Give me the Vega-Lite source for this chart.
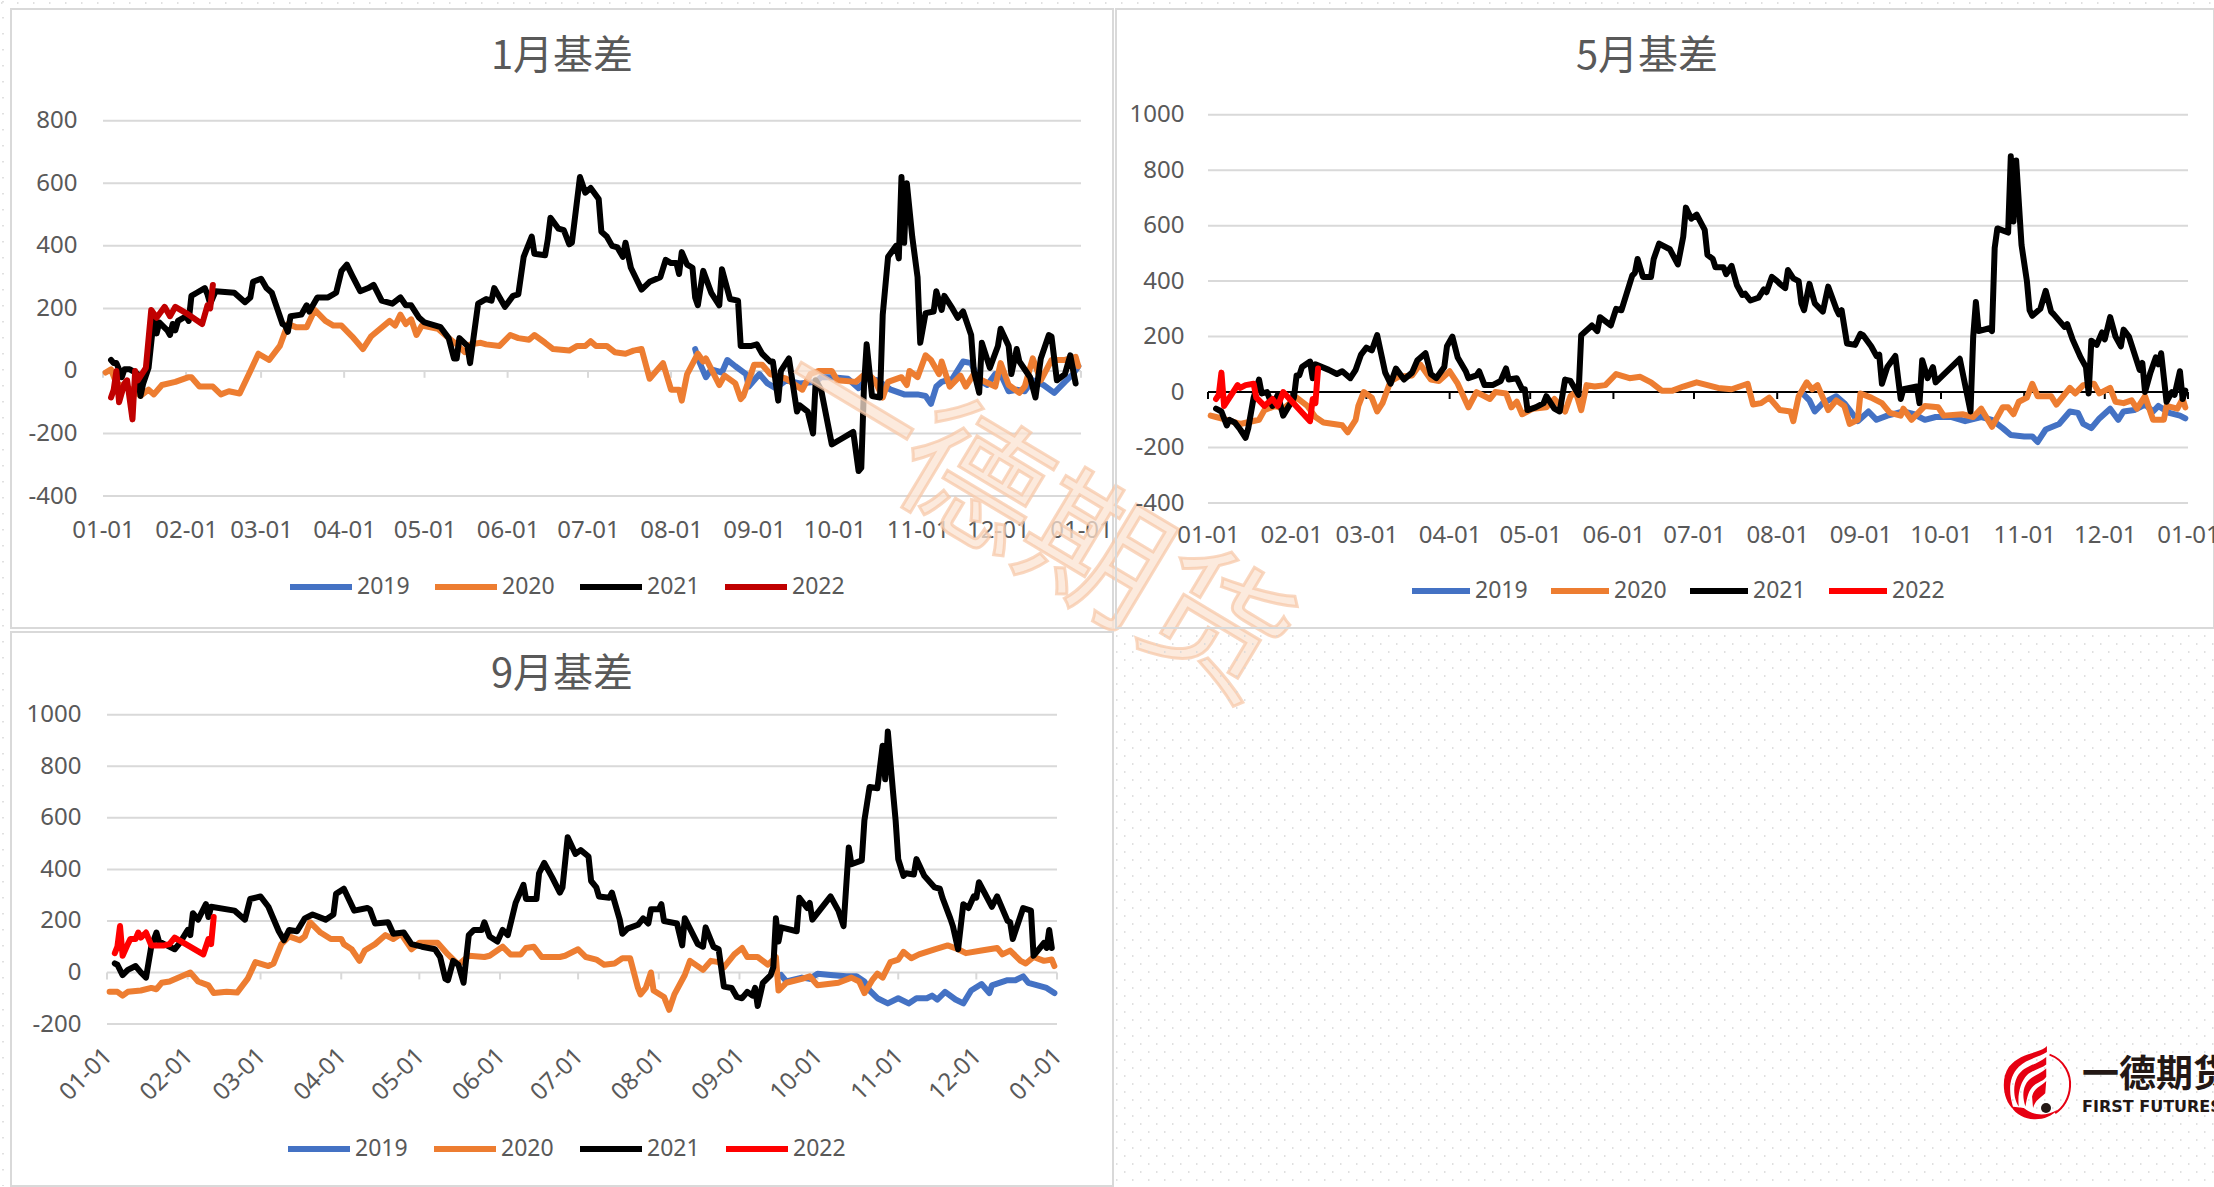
{"$schema":"https://vega.github.io/schema/vega-lite/v6.json","background":"#ffffff","padding":0,"bounds":"flush","columns":2,"spacing":{"column":3,"row":4},"resolve":{"scale":{"color":"independent"},"legend":{"color":"independent"}},
"config":{"font":"Noto Sans","axis":{"labelFont":"Noto Sans","labelFontSize":24,"labelColor":"#595959","domain":false,"ticks":false,"grid":false,"labelPadding":0,"labelOverlap":false,"labelFlush":false,"labelBound":false},"title":{"font":"Noto Sans CJK SC","fontSize":40,"fontWeight":"normal","color":"#595959","anchor":"middle","baseline":"middle"},"legend":{"orient":"none","direction":"horizontal","columns":4,"title":null,"symbolType":"stroke","symbolStrokeWidth":6,"labelFont":"Noto Sans","labelFontSize":23,"labelColor":"#595959","labelOffset":2,"padding":0}},
"datasets":{"ticks":[{"d":"1900-01-01","v":0},{"d":"1900-02-01","v":0},{"d":"1900-03-01","v":0},{"d":"1900-04-01","v":0},{"d":"1900-05-01","v":0},{"d":"1900-06-01","v":0},{"d":"1900-07-01","v":0},{"d":"1900-08-01","v":0},{"d":"1900-09-01","v":0},{"d":"1900-10-01","v":0},{"d":"1900-11-01","v":0},{"d":"1900-12-01","v":0},{"d":"1901-01-01","v":0}],
"p1":[
{"d":"08-10","s":2019,"v":70},{"d":"08-11","s":2019,"v":40},{"d":"08-14","s":2019,"v":-20},{"d":"08-16","s":2019,"v":5},{"d":"08-20","s":2019,"v":-5},{"d":"08-22","s":2019,"v":35},{"d":"08-25","s":2019,"v":15},{"d":"08-29","s":2019,"v":-10},{"d":"08-30","s":2019,"v":-50},{"d":"09-03","s":2019,"v":-10},{"d":"09-06","s":2019,"v":-40},{"d":"09-09","s":2019,"v":-55},{"d":"09-13","s":2019,"v":-30},{"d":"09-18","s":2019,"v":-40},{"d":"09-24","s":2019,"v":-35},{"d":"09-26","s":2019,"v":-20},{"d":"09-30","s":2019,"v":-20},{"d":"10-06","s":2019,"v":-25},{"d":"10-10","s":2019,"v":-55},{"d":"10-13","s":2019,"v":-25},{"d":"10-17","s":2019,"v":-30},{"d":"10-22","s":2019,"v":-60},{"d":"10-27","s":2019,"v":-75},{"d":"11-01","s":2019,"v":-75},{"d":"11-04","s":2019,"v":-80},{"d":"11-06","s":2019,"v":-105},{"d":"11-08","s":2019,"v":-50},{"d":"11-10","s":2019,"v":-35},{"d":"11-14","s":2019,"v":-25},{"d":"11-18","s":2019,"v":30},{"d":"11-21","s":2019,"v":25},{"d":"11-24","s":2019,"v":-30},{"d":"11-27","s":2019,"v":-45},{"d":"11-30","s":2019,"v":-10},{"d":"12-02","s":2019,"v":-10},{"d":"12-05","s":2019,"v":-65},{"d":"12-08","s":2019,"v":-60},{"d":"12-11","s":2019,"v":-65},{"d":"12-14","s":2019,"v":-30},{"d":"12-18","s":2019,"v":-45},{"d":"12-22","s":2019,"v":-70},{"d":"12-26","s":2019,"v":-35},{"d":"12-29","s":2019,"v":-10},{"d":"12-31","s":2019,"v":15},
{"d":"01-02","s":2020,"v":-5},{"d":"01-04","s":2020,"v":5},{"d":"01-06","s":2020,"v":-40},{"d":"01-12","s":2020,"v":-60},{"d":"01-15","s":2020,"v":-80},{"d":"01-18","s":2020,"v":-60},{"d":"01-20","s":2020,"v":-75},{"d":"01-23","s":2020,"v":-45},{"d":"01-28","s":2020,"v":-35},{"d":"02-02","s":2020,"v":-20},{"d":"02-03","s":2020,"v":-20},{"d":"02-06","s":2020,"v":-50},{"d":"02-11","s":2020,"v":-50},{"d":"02-14","s":2020,"v":-75},{"d":"02-17","s":2020,"v":-65},{"d":"02-21","s":2020,"v":-72},{"d":"02-25","s":2020,"v":0},{"d":"02-28","s":2020,"v":55},{"d":"03-04","s":2020,"v":35},{"d":"03-08","s":2020,"v":80},{"d":"03-11","s":2020,"v":150},{"d":"03-14","s":2020,"v":140},{"d":"03-18","s":2020,"v":140},{"d":"03-21","s":2020,"v":195},{"d":"03-25","s":2020,"v":160},{"d":"03-28","s":2020,"v":145},{"d":"03-31","s":2020,"v":145},{"d":"04-04","s":2020,"v":110},{"d":"04-08","s":2020,"v":70},{"d":"04-11","s":2020,"v":110},{"d":"04-18","s":2020,"v":160},{"d":"04-20","s":2020,"v":145},{"d":"04-22","s":2020,"v":180},{"d":"04-24","s":2020,"v":150},{"d":"04-26","s":2020,"v":165},{"d":"04-28","s":2020,"v":115},{"d":"04-30","s":2020,"v":145},{"d":"05-06","s":2020,"v":135},{"d":"05-10","s":2020,"v":105},{"d":"05-13","s":2020,"v":85},{"d":"05-16","s":2020,"v":60},{"d":"05-18","s":2020,"v":85},{"d":"05-22","s":2020,"v":90},{"d":"05-24","s":2020,"v":85},{"d":"05-29","s":2020,"v":80},{"d":"06-02","s":2020,"v":115},{"d":"06-05","s":2020,"v":105},{"d":"06-09","s":2020,"v":100},{"d":"06-11","s":2020,"v":115},{"d":"06-15","s":2020,"v":90},{"d":"06-18","s":2020,"v":70},{"d":"06-24","s":2020,"v":65},{"d":"06-27","s":2020,"v":80},{"d":"06-30","s":2020,"v":80},{"d":"07-02","s":2020,"v":95},{"d":"07-04","s":2020,"v":80},{"d":"07-08","s":2020,"v":80},{"d":"07-11","s":2020,"v":60},{"d":"07-15","s":2020,"v":55},{"d":"07-18","s":2020,"v":65},{"d":"07-21","s":2020,"v":70},{"d":"07-24","s":2020,"v":-25},{"d":"07-29","s":2020,"v":25},{"d":"08-01","s":2020,"v":-60},{"d":"08-04","s":2020,"v":-60},{"d":"08-05","s":2020,"v":-95},{"d":"08-07","s":2020,"v":-10},{"d":"08-11","s":2020,"v":55},{"d":"08-13","s":2020,"v":30},{"d":"08-14","s":2020,"v":40},{"d":"08-19","s":2020,"v":-45},{"d":"08-21","s":2020,"v":-15},{"d":"08-25","s":2020,"v":-40},{"d":"08-27","s":2020,"v":-90},{"d":"08-28","s":2020,"v":-80},{"d":"09-01","s":2020,"v":20},{"d":"09-04","s":2020,"v":20},{"d":"09-07","s":2020,"v":-10},{"d":"09-13","s":2020,"v":-25},{"d":"09-19","s":2020,"v":-60},{"d":"09-22","s":2020,"v":-10},{"d":"09-25","s":2020,"v":0},{"d":"09-30","s":2020,"v":0},{"d":"10-02","s":2020,"v":-30},{"d":"10-09","s":2020,"v":-35},{"d":"10-13","s":2020,"v":-5},{"d":"10-16","s":2020,"v":-30},{"d":"10-19","s":2020,"v":-85},{"d":"10-21","s":2020,"v":-35},{"d":"10-26","s":2020,"v":-20},{"d":"10-28","s":2020,"v":-45},{"d":"10-29","s":2020,"v":0},{"d":"11-01","s":2020,"v":-20},{"d":"11-04","s":2020,"v":50},{"d":"11-06","s":2020,"v":35},{"d":"11-09","s":2020,"v":-10},{"d":"11-10","s":2020,"v":30},{"d":"11-13","s":2020,"v":-50},{"d":"11-17","s":2020,"v":-15},{"d":"11-19","s":2020,"v":-50},{"d":"11-22","s":2020,"v":-10},{"d":"11-25","s":2020,"v":-30},{"d":"11-30","s":2020,"v":-50},{"d":"12-02","s":2020,"v":25},{"d":"12-05","s":2020,"v":-45},{"d":"12-09","s":2020,"v":-70},{"d":"12-11","s":2020,"v":-50},{"d":"12-14","s":2020,"v":40},{"d":"12-17","s":2020,"v":-30},{"d":"12-21","s":2020,"v":35},{"d":"12-26","s":2020,"v":35},{"d":"12-30","s":2020,"v":45},{"d":"12-31","s":2020,"v":15},
{"d":"01-04","s":2021,"v":35},{"d":"01-05","s":2021,"v":25},{"d":"01-06","s":2021,"v":25},{"d":"01-07","s":2021,"v":5},{"d":"01-08","s":2021,"v":-20},{"d":"01-09","s":2021,"v":5},{"d":"01-11","s":2021,"v":5},{"d":"01-12","s":2021,"v":0},{"d":"01-14","s":2021,"v":-10},{"d":"01-15","s":2021,"v":-80},{"d":"01-16","s":2021,"v":-40},{"d":"01-18","s":2021,"v":10},{"d":"01-19","s":2021,"v":90},{"d":"01-20","s":2021,"v":170},{"d":"01-21","s":2021,"v":120},{"d":"01-22","s":2021,"v":155},{"d":"01-25","s":2021,"v":130},{"d":"01-26","s":2021,"v":115},{"d":"01-27","s":2021,"v":150},{"d":"01-28","s":2021,"v":130},{"d":"01-29","s":2021,"v":160},{"d":"02-01","s":2021,"v":175},{"d":"02-02","s":2021,"v":160},{"d":"02-03","s":2021,"v":240},{"d":"02-05","s":2021,"v":250},{"d":"02-08","s":2021,"v":265},{"d":"02-09","s":2021,"v":245},{"d":"02-10","s":2021,"v":215},{"d":"02-12","s":2021,"v":255},{"d":"02-19","s":2021,"v":250},{"d":"02-23","s":2021,"v":220},{"d":"02-25","s":2021,"v":235},{"d":"02-26","s":2021,"v":285},{"d":"03-01","s":2021,"v":295},{"d":"03-03","s":2021,"v":265},{"d":"03-05","s":2021,"v":250},{"d":"03-09","s":2021,"v":150},{"d":"03-10","s":2021,"v":145},{"d":"03-11","s":2021,"v":125},{"d":"03-12","s":2021,"v":175},{"d":"03-16","s":2021,"v":180},{"d":"03-18","s":2021,"v":210},{"d":"03-19","s":2021,"v":190},{"d":"03-22","s":2021,"v":235},{"d":"03-26","s":2021,"v":235},{"d":"03-29","s":2021,"v":250},{"d":"03-31","s":2021,"v":320},{"d":"04-02","s":2021,"v":340},{"d":"04-04","s":2021,"v":305},{"d":"04-07","s":2021,"v":255},{"d":"04-10","s":2021,"v":265},{"d":"04-12","s":2021,"v":275},{"d":"04-15","s":2021,"v":225},{"d":"04-19","s":2021,"v":215},{"d":"04-22","s":2021,"v":235},{"d":"04-24","s":2021,"v":210},{"d":"04-26","s":2021,"v":210},{"d":"04-29","s":2021,"v":170},{"d":"05-01","s":2021,"v":155},{"d":"05-07","s":2021,"v":140},{"d":"05-10","s":2021,"v":105},{"d":"05-12","s":2021,"v":40},{"d":"05-13","s":2021,"v":40},{"d":"05-14","s":2021,"v":105},{"d":"05-17","s":2021,"v":80},{"d":"05-18","s":2021,"v":25},{"d":"05-21","s":2021,"v":215},{"d":"05-24","s":2021,"v":230},{"d":"05-26","s":2021,"v":225},{"d":"05-27","s":2021,"v":265},{"d":"05-31","s":2021,"v":205},{"d":"06-03","s":2021,"v":240},{"d":"06-05","s":2021,"v":245},{"d":"06-07","s":2021,"v":365},{"d":"06-10","s":2021,"v":430},{"d":"06-11","s":2021,"v":375},{"d":"06-15","s":2021,"v":370},{"d":"06-16","s":2021,"v":420},{"d":"06-17","s":2021,"v":490},{"d":"06-20","s":2021,"v":455},{"d":"06-22","s":2021,"v":450},{"d":"06-24","s":2021,"v":405},{"d":"06-25","s":2021,"v":410},{"d":"06-28","s":2021,"v":620},{"d":"06-30","s":2021,"v":570},{"d":"07-02","s":2021,"v":585},{"d":"07-05","s":2021,"v":550},{"d":"07-06","s":2021,"v":445},{"d":"07-08","s":2021,"v":430},{"d":"07-10","s":2021,"v":400},{"d":"07-12","s":2021,"v":395},{"d":"07-14","s":2021,"v":365},{"d":"07-15","s":2021,"v":410},{"d":"07-17","s":2021,"v":330},{"d":"07-19","s":2021,"v":295},{"d":"07-21","s":2021,"v":260},{"d":"07-24","s":2021,"v":285},{"d":"07-28","s":2021,"v":300},{"d":"07-30","s":2021,"v":355},{"d":"08-01","s":2021,"v":345},{"d":"08-03","s":2021,"v":345},{"d":"08-04","s":2021,"v":310},{"d":"08-05","s":2021,"v":380},{"d":"08-07","s":2021,"v":340},{"d":"08-09","s":2021,"v":330},{"d":"08-10","s":2021,"v":235},{"d":"08-11","s":2021,"v":210},{"d":"08-13","s":2021,"v":320},{"d":"08-16","s":2021,"v":250},{"d":"08-19","s":2021,"v":210},{"d":"08-20","s":2021,"v":325},{"d":"08-23","s":2021,"v":230},{"d":"08-26","s":2021,"v":225},{"d":"08-27","s":2021,"v":80},{"d":"08-31","s":2021,"v":80},{"d":"09-02","s":2021,"v":85},{"d":"09-04","s":2021,"v":55},{"d":"09-07","s":2021,"v":30},{"d":"09-08","s":2021,"v":30},{"d":"09-10","s":2021,"v":-95},{"d":"09-11","s":2021,"v":0},{"d":"09-14","s":2021,"v":40},{"d":"09-17","s":2021,"v":-130},{"d":"09-18","s":2021,"v":-110},{"d":"09-21","s":2021,"v":-130},{"d":"09-23","s":2021,"v":-200},{"d":"09-24","s":2021,"v":-30},{"d":"09-26","s":2021,"v":-60},{"d":"09-30","s":2021,"v":-235},{"d":"10-03","s":2021,"v":-220},{"d":"10-08","s":2021,"v":-195},{"d":"10-10","s":2021,"v":-320},{"d":"10-11","s":2021,"v":-310},{"d":"10-12","s":2021,"v":-50},{"d":"10-13","s":2021,"v":85},{"d":"10-15","s":2021,"v":-80},{"d":"10-18","s":2021,"v":-85},{"d":"10-19","s":2021,"v":180},{"d":"10-21","s":2021,"v":365},{"d":"10-24","s":2021,"v":400},{"d":"10-25","s":2021,"v":360},{"d":"10-26","s":2021,"v":620},{"d":"10-27","s":2021,"v":410},{"d":"10-28","s":2021,"v":600},{"d":"10-30","s":2021,"v":430},{"d":"11-01","s":2021,"v":300},{"d":"11-02","s":2021,"v":90},{"d":"11-04","s":2021,"v":185},{"d":"11-07","s":2021,"v":190},{"d":"11-08","s":2021,"v":255},{"d":"11-10","s":2021,"v":195},{"d":"11-11","s":2021,"v":240},{"d":"11-14","s":2021,"v":200},{"d":"11-16","s":2021,"v":170},{"d":"11-18","s":2021,"v":190},{"d":"11-21","s":2021,"v":115},{"d":"11-22","s":2021,"v":0},{"d":"11-24","s":2021,"v":-70},{"d":"11-25","s":2021,"v":90},{"d":"11-28","s":2021,"v":10},{"d":"12-01","s":2021,"v":80},{"d":"12-02","s":2021,"v":135},{"d":"12-05","s":2021,"v":80},{"d":"12-06","s":2021,"v":-10},{"d":"12-08","s":2021,"v":70},{"d":"12-09","s":2021,"v":30},{"d":"12-13","s":2021,"v":-20},{"d":"12-15","s":2021,"v":-85},{"d":"12-17","s":2021,"v":40},{"d":"12-20","s":2021,"v":115},{"d":"12-21","s":2021,"v":110},{"d":"12-23","s":2021,"v":-30},{"d":"12-26","s":2021,"v":-10},{"d":"12-28","s":2021,"v":50},{"d":"12-30","s":2021,"v":-40},
{"d":"01-04","s":2022,"v":-85},{"d":"01-05","s":2022,"v":-60},{"d":"01-06","s":2022,"v":0},{"d":"01-07","s":2022,"v":-100},{"d":"01-09","s":2022,"v":-40},{"d":"01-10","s":2022,"v":-30},{"d":"01-12","s":2022,"v":-155},{"d":"01-13","s":2022,"v":0},{"d":"01-14","s":2022,"v":-30},{"d":"01-17","s":2022,"v":10},{"d":"01-19","s":2022,"v":195},{"d":"01-21","s":2022,"v":170},{"d":"01-24","s":2022,"v":205},{"d":"01-26","s":2022,"v":175},{"d":"01-28","s":2022,"v":205},{"d":"02-01","s":2022,"v":185},{"d":"02-07","s":2022,"v":150},{"d":"02-09","s":2022,"v":210},{"d":"02-10","s":2022,"v":200},{"d":"02-11","s":2022,"v":275}],
"p2":[
{"d":"08-10","s":2019,"v":0},{"d":"08-13","s":2019,"v":-30},{"d":"08-15","s":2019,"v":-70},{"d":"08-18","s":2019,"v":-40},{"d":"08-23","s":2019,"v":-15},{"d":"08-26","s":2019,"v":-40},{"d":"08-28","s":2019,"v":-65},{"d":"08-31","s":2019,"v":-105},{"d":"09-04","s":2019,"v":-70},{"d":"09-07","s":2019,"v":-100},{"d":"09-11","s":2019,"v":-85},{"d":"09-17","s":2019,"v":-70},{"d":"09-21","s":2019,"v":-80},{"d":"09-25","s":2019,"v":-100},{"d":"09-29","s":2019,"v":-90},{"d":"10-05","s":2019,"v":-90},{"d":"10-10","s":2019,"v":-105},{"d":"10-16","s":2019,"v":-90},{"d":"10-20","s":2019,"v":-100},{"d":"10-24","s":2019,"v":-130},{"d":"10-27","s":2019,"v":-155},{"d":"11-01","s":2019,"v":-160},{"d":"11-04","s":2019,"v":-160},{"d":"11-06","s":2019,"v":-180},{"d":"11-09","s":2019,"v":-135},{"d":"11-14","s":2019,"v":-115},{"d":"11-18","s":2019,"v":-70},{"d":"11-21","s":2019,"v":-75},{"d":"11-23","s":2019,"v":-115},{"d":"11-26","s":2019,"v":-130},{"d":"11-29","s":2019,"v":-95},{"d":"12-03","s":2019,"v":-60},{"d":"12-06","s":2019,"v":-100},{"d":"12-08","s":2019,"v":-70},{"d":"12-12","s":2019,"v":-65},{"d":"12-16","s":2019,"v":-45},{"d":"12-19","s":2019,"v":-70},{"d":"12-21","s":2019,"v":-50},{"d":"12-25","s":2019,"v":-75},{"d":"12-29","s":2019,"v":-85},{"d":"12-31","s":2019,"v":-95},
{"d":"01-02","s":2020,"v":-85},{"d":"01-04","s":2020,"v":-90},{"d":"01-08","s":2020,"v":-100},{"d":"01-13","s":2020,"v":-115},{"d":"01-20","s":2020,"v":-100},{"d":"01-22","s":2020,"v":-65},{"d":"01-26","s":2020,"v":-50},{"d":"01-29","s":2020,"v":-60},{"d":"02-03","s":2020,"v":-20},{"d":"02-07","s":2020,"v":-50},{"d":"02-10","s":2020,"v":-90},{"d":"02-13","s":2020,"v":-110},{"d":"02-20","s":2020,"v":-120},{"d":"02-22","s":2020,"v":-145},{"d":"02-25","s":2020,"v":-100},{"d":"02-26","s":2020,"v":-50},{"d":"02-28","s":2020,"v":0},{"d":"03-03","s":2020,"v":-20},{"d":"03-05","s":2020,"v":-70},{"d":"03-07","s":2020,"v":-40},{"d":"03-10","s":2020,"v":40},{"d":"03-13","s":2020,"v":55},{"d":"03-18","s":2020,"v":60},{"d":"03-21","s":2020,"v":100},{"d":"03-25","s":2020,"v":45},{"d":"03-28","s":2020,"v":40},{"d":"04-01","s":2020,"v":75},{"d":"04-04","s":2020,"v":30},{"d":"04-08","s":2020,"v":-55},{"d":"04-11","s":2020,"v":0},{"d":"04-16","s":2020,"v":-25},{"d":"04-18","s":2020,"v":0},{"d":"04-22","s":2020,"v":-5},{"d":"04-24","s":2020,"v":-55},{"d":"04-26","s":2020,"v":-35},{"d":"04-28","s":2020,"v":-80},{"d":"05-02","s":2020,"v":-60},{"d":"05-07","s":2020,"v":-55},{"d":"05-10","s":2020,"v":-25},{"d":"05-14","s":2020,"v":-70},{"d":"05-16","s":2020,"v":-15},{"d":"05-18","s":2020,"v":0},{"d":"05-20","s":2020,"v":-65},{"d":"05-22","s":2020,"v":25},{"d":"05-25","s":2020,"v":20},{"d":"05-29","s":2020,"v":25},{"d":"06-02","s":2020,"v":65},{"d":"06-07","s":2020,"v":50},{"d":"06-11","s":2020,"v":55},{"d":"06-15","s":2020,"v":35},{"d":"06-19","s":2020,"v":5},{"d":"06-23","s":2020,"v":5},{"d":"06-27","s":2020,"v":20},{"d":"07-02","s":2020,"v":35},{"d":"07-06","s":2020,"v":25},{"d":"07-10","s":2020,"v":15},{"d":"07-15","s":2020,"v":10},{"d":"07-21","s":2020,"v":30},{"d":"07-23","s":2020,"v":-45},{"d":"07-26","s":2020,"v":-40},{"d":"07-29","s":2020,"v":-20},{"d":"08-02","s":2020,"v":-65},{"d":"08-06","s":2020,"v":-70},{"d":"08-07","s":2020,"v":-105},{"d":"08-09","s":2020,"v":-15},{"d":"08-12","s":2020,"v":35},{"d":"08-14","s":2020,"v":10},{"d":"08-16","s":2020,"v":25},{"d":"08-20","s":2020,"v":-65},{"d":"08-23","s":2020,"v":-30},{"d":"08-26","s":2020,"v":-50},{"d":"08-28","s":2020,"v":-115},{"d":"08-31","s":2020,"v":-100},{"d":"09-01","s":2020,"v":-5},{"d":"09-05","s":2020,"v":-20},{"d":"09-09","s":2020,"v":-40},{"d":"09-12","s":2020,"v":-75},{"d":"09-16","s":2020,"v":-85},{"d":"09-17","s":2020,"v":-60},{"d":"09-20","s":2020,"v":-100},{"d":"09-25","s":2020,"v":-50},{"d":"09-30","s":2020,"v":-55},{"d":"10-02","s":2020,"v":-85},{"d":"10-09","s":2020,"v":-80},{"d":"10-13","s":2020,"v":-90},{"d":"10-16","s":2020,"v":-60},{"d":"10-20","s":2020,"v":-125},{"d":"10-24","s":2020,"v":-55},{"d":"10-26","s":2020,"v":-55},{"d":"10-28","s":2020,"v":-80},{"d":"10-30","s":2020,"v":-35},{"d":"11-02","s":2020,"v":-20},{"d":"11-04","s":2020,"v":30},{"d":"11-06","s":2020,"v":-15},{"d":"11-11","s":2020,"v":-15},{"d":"11-13","s":2020,"v":-45},{"d":"11-18","s":2020,"v":15},{"d":"11-20","s":2020,"v":-5},{"d":"11-23","s":2020,"v":25},{"d":"11-27","s":2020,"v":30},{"d":"11-29","s":2020,"v":-5},{"d":"12-03","s":2020,"v":15},{"d":"12-05","s":2020,"v":-35},{"d":"12-08","s":2020,"v":-40},{"d":"12-11","s":2020,"v":-30},{"d":"12-13","s":2020,"v":-60},{"d":"12-16","s":2020,"v":-15},{"d":"12-19","s":2020,"v":-100},{"d":"12-23","s":2020,"v":-100},{"d":"12-24","s":2020,"v":-50},{"d":"12-28","s":2020,"v":-60},{"d":"12-30","s":2020,"v":-25},{"d":"12-31","s":2020,"v":-55},
{"d":"01-04","s":2021,"v":-60},{"d":"01-06","s":2021,"v":-70},{"d":"01-08","s":2021,"v":-120},{"d":"01-09","s":2021,"v":-100},{"d":"01-11","s":2021,"v":-110},{"d":"01-13","s":2021,"v":-135},{"d":"01-15","s":2021,"v":-165},{"d":"01-16","s":2021,"v":-130},{"d":"01-18","s":2021,"v":-20},{"d":"01-20","s":2021,"v":45},{"d":"01-21","s":2021,"v":-5},{"d":"01-23","s":2021,"v":0},{"d":"01-25","s":2021,"v":-50},{"d":"01-27","s":2021,"v":-10},{"d":"01-29","s":2021,"v":-85},{"d":"02-02","s":2021,"v":-20},{"d":"02-03","s":2021,"v":60},{"d":"02-04","s":2021,"v":60},{"d":"02-05","s":2021,"v":90},{"d":"02-08","s":2021,"v":110},{"d":"02-09","s":2021,"v":50},{"d":"02-10","s":2021,"v":100},{"d":"02-15","s":2021,"v":80},{"d":"02-18","s":2021,"v":65},{"d":"02-20","s":2021,"v":75},{"d":"02-23","s":2021,"v":50},{"d":"02-25","s":2021,"v":80},{"d":"02-27","s":2021,"v":135},{"d":"03-01","s":2021,"v":160},{"d":"03-03","s":2021,"v":150},{"d":"03-05","s":2021,"v":205},{"d":"03-08","s":2021,"v":70},{"d":"03-10","s":2021,"v":30},{"d":"03-12","s":2021,"v":85},{"d":"03-15","s":2021,"v":45},{"d":"03-18","s":2021,"v":70},{"d":"03-20","s":2021,"v":115},{"d":"03-23","s":2021,"v":140},{"d":"03-25","s":2021,"v":65},{"d":"03-27","s":2021,"v":50},{"d":"03-30","s":2021,"v":90},{"d":"03-31","s":2021,"v":165},{"d":"04-02","s":2021,"v":200},{"d":"04-04","s":2021,"v":125},{"d":"04-07","s":2021,"v":75},{"d":"04-08","s":2021,"v":50},{"d":"04-11","s":2021,"v":60},{"d":"04-12","s":2021,"v":75},{"d":"04-14","s":2021,"v":25},{"d":"04-17","s":2021,"v":25},{"d":"04-20","s":2021,"v":40},{"d":"04-22","s":2021,"v":85},{"d":"04-23","s":2021,"v":45},{"d":"04-26","s":2021,"v":50},{"d":"04-28","s":2021,"v":10},{"d":"04-29","s":2021,"v":10},{"d":"04-30","s":2021,"v":-65},{"d":"05-03","s":2021,"v":-55},{"d":"05-06","s":2021,"v":-40},{"d":"05-07","s":2021,"v":-15},{"d":"05-10","s":2021,"v":-60},{"d":"05-12","s":2021,"v":-70},{"d":"05-14","s":2021,"v":45},{"d":"05-16","s":2021,"v":40},{"d":"05-19","s":2021,"v":-10},{"d":"05-20","s":2021,"v":205},{"d":"05-24","s":2021,"v":240},{"d":"05-26","s":2021,"v":220},{"d":"05-27","s":2021,"v":270},{"d":"05-31","s":2021,"v":240},{"d":"06-02","s":2021,"v":300},{"d":"06-04","s":2021,"v":295},{"d":"06-08","s":2021,"v":420},{"d":"06-09","s":2021,"v":430},{"d":"06-10","s":2021,"v":480},{"d":"06-12","s":2021,"v":415},{"d":"06-15","s":2021,"v":415},{"d":"06-16","s":2021,"v":480},{"d":"06-18","s":2021,"v":535},{"d":"06-22","s":2021,"v":515},{"d":"06-25","s":2021,"v":460},{"d":"06-27","s":2021,"v":560},{"d":"06-28","s":2021,"v":665},{"d":"06-30","s":2021,"v":625},{"d":"07-02","s":2021,"v":640},{"d":"07-05","s":2021,"v":585},{"d":"07-06","s":2021,"v":495},{"d":"07-08","s":2021,"v":480},{"d":"07-09","s":2021,"v":450},{"d":"07-12","s":2021,"v":450},{"d":"07-13","s":2021,"v":425},{"d":"07-15","s":2021,"v":455},{"d":"07-17","s":2021,"v":385},{"d":"07-19","s":2021,"v":350},{"d":"07-20","s":2021,"v":355},{"d":"07-22","s":2021,"v":330},{"d":"07-25","s":2021,"v":340},{"d":"07-27","s":2021,"v":370},{"d":"07-28","s":2021,"v":360},{"d":"07-30","s":2021,"v":415},{"d":"08-01","s":2021,"v":400},{"d":"08-02","s":2021,"v":390},{"d":"08-04","s":2021,"v":375},{"d":"08-05","s":2021,"v":440},{"d":"08-07","s":2021,"v":410},{"d":"08-09","s":2021,"v":400},{"d":"08-10","s":2021,"v":320},{"d":"08-11","s":2021,"v":295},{"d":"08-13","s":2021,"v":390},{"d":"08-15","s":2021,"v":320},{"d":"08-18","s":2021,"v":290},{"d":"08-20","s":2021,"v":380},{"d":"08-23","s":2021,"v":300},{"d":"08-24","s":2021,"v":280},{"d":"08-25","s":2021,"v":295},{"d":"08-27","s":2021,"v":175},{"d":"08-30","s":2021,"v":170},{"d":"09-01","s":2021,"v":210},{"d":"09-02","s":2021,"v":205},{"d":"09-05","s":2021,"v":165},{"d":"09-07","s":2021,"v":130},{"d":"09-08","s":2021,"v":135},{"d":"09-09","s":2021,"v":30},{"d":"09-11","s":2021,"v":90},{"d":"09-14","s":2021,"v":130},{"d":"09-16","s":2021,"v":-25},{"d":"09-17","s":2021,"v":10},{"d":"09-22","s":2021,"v":20},{"d":"09-23","s":2021,"v":-40},{"d":"09-24","s":2021,"v":115},{"d":"09-26","s":2021,"v":50},{"d":"09-28","s":2021,"v":90},{"d":"09-29","s":2021,"v":35},{"d":"10-08","s":2021,"v":120},{"d":"10-12","s":2021,"v":-70},{"d":"10-13","s":2021,"v":200},{"d":"10-14","s":2021,"v":325},{"d":"10-15","s":2021,"v":220},{"d":"10-19","s":2021,"v":230},{"d":"10-20","s":2021,"v":220},{"d":"10-21","s":2021,"v":520},{"d":"10-22","s":2021,"v":590},{"d":"10-26","s":2021,"v":575},{"d":"10-27","s":2021,"v":850},{"d":"10-28","s":2021,"v":615},{"d":"10-29","s":2021,"v":835},{"d":"10-31","s":2021,"v":530},{"d":"11-02","s":2021,"v":400},{"d":"11-03","s":2021,"v":295},{"d":"11-04","s":2021,"v":275},{"d":"11-07","s":2021,"v":300},{"d":"11-09","s":2021,"v":365},{"d":"11-11","s":2021,"v":290},{"d":"11-12","s":2021,"v":280},{"d":"11-16","s":2021,"v":235},{"d":"11-17","s":2021,"v":245},{"d":"11-19","s":2021,"v":190},{"d":"11-22","s":2021,"v":125},{"d":"11-24","s":2021,"v":90},{"d":"11-25","s":2021,"v":-5},{"d":"11-26","s":2021,"v":185},{"d":"11-28","s":2021,"v":170},{"d":"11-30","s":2021,"v":215},{"d":"12-01","s":2021,"v":190},{"d":"12-03","s":2021,"v":270},{"d":"12-05","s":2021,"v":200},{"d":"12-07","s":2021,"v":165},{"d":"12-08","s":2021,"v":225},{"d":"12-10","s":2021,"v":200},{"d":"12-14","s":2021,"v":80},{"d":"12-15","s":2021,"v":105},{"d":"12-16","s":2021,"v":0},{"d":"12-18","s":2021,"v":70},{"d":"12-20","s":2021,"v":125},{"d":"12-21","s":2021,"v":100},{"d":"12-22","s":2021,"v":140},{"d":"12-24","s":2021,"v":-35},{"d":"12-26","s":2021,"v":0},{"d":"12-27","s":2021,"v":-10},{"d":"12-29","s":2021,"v":75},{"d":"12-30","s":2021,"v":-25},{"d":"12-31","s":2021,"v":5},
{"d":"01-04","s":2022,"v":-25},{"d":"01-05","s":2022,"v":-10},{"d":"01-06","s":2022,"v":70},{"d":"01-07","s":2022,"v":-50},{"d":"01-11","s":2022,"v":10},{"d":"01-12","s":2022,"v":25},{"d":"01-13","s":2022,"v":15},{"d":"01-15","s":2022,"v":25},{"d":"01-18","s":2022,"v":30},{"d":"01-19","s":2022,"v":-20},{"d":"01-22","s":2022,"v":-50},{"d":"01-25","s":2022,"v":-25},{"d":"01-27","s":2022,"v":-50},{"d":"01-29","s":2022,"v":0},{"d":"02-08","s":2022,"v":-105},{"d":"02-09","s":2022,"v":-25},{"d":"02-10","s":2022,"v":-40},{"d":"02-11","s":2022,"v":85}],
"p3":[
{"d":"09-17","s":2019,"v":-10},{"d":"09-19","s":2019,"v":-35},{"d":"09-25","s":2019,"v":-20},{"d":"09-28","s":2019,"v":-25},{"d":"10-01","s":2019,"v":-5},{"d":"10-06","s":2019,"v":-10},{"d":"10-12","s":2019,"v":-15},{"d":"10-16","s":2019,"v":-15},{"d":"10-19","s":2019,"v":-35},{"d":"10-21","s":2019,"v":-70},{"d":"10-24","s":2019,"v":-100},{"d":"10-28","s":2019,"v":-120},{"d":"11-01","s":2019,"v":-100},{"d":"11-05","s":2019,"v":-120},{"d":"11-08","s":2019,"v":-100},{"d":"11-12","s":2019,"v":-100},{"d":"11-14","s":2019,"v":-90},{"d":"11-16","s":2019,"v":-105},{"d":"11-19","s":2019,"v":-75},{"d":"11-23","s":2019,"v":-105},{"d":"11-26","s":2019,"v":-120},{"d":"11-29","s":2019,"v":-70},{"d":"12-03","s":2019,"v":-45},{"d":"12-06","s":2019,"v":-80},{"d":"12-07","s":2019,"v":-50},{"d":"12-13","s":2019,"v":-30},{"d":"12-16","s":2019,"v":-30},{"d":"12-19","s":2019,"v":-15},{"d":"12-21","s":2019,"v":-40},{"d":"12-28","s":2019,"v":-60},{"d":"12-31","s":2019,"v":-80},
{"d":"01-02","s":2020,"v":-75},{"d":"01-05","s":2020,"v":-75},{"d":"01-07","s":2020,"v":-90},{"d":"01-09","s":2020,"v":-75},{"d":"01-14","s":2020,"v":-70},{"d":"01-18","s":2020,"v":-60},{"d":"01-20","s":2020,"v":-65},{"d":"01-22","s":2020,"v":-40},{"d":"01-25","s":2020,"v":-35},{"d":"02-02","s":2020,"v":0},{"d":"02-05","s":2020,"v":-35},{"d":"02-09","s":2020,"v":-50},{"d":"02-11","s":2020,"v":-80},{"d":"02-16","s":2020,"v":-75},{"d":"02-20","s":2020,"v":-78},{"d":"02-24","s":2020,"v":-25},{"d":"02-27","s":2020,"v":40},{"d":"03-04","s":2020,"v":25},{"d":"03-06","s":2020,"v":35},{"d":"03-09","s":2020,"v":110},{"d":"03-12","s":2020,"v":140},{"d":"03-16","s":2020,"v":125},{"d":"03-18","s":2020,"v":140},{"d":"03-20","s":2020,"v":195},{"d":"03-24","s":2020,"v":155},{"d":"03-28","s":2020,"v":130},{"d":"04-01","s":2020,"v":130},{"d":"04-02","s":2020,"v":110},{"d":"04-05","s":2020,"v":90},{"d":"04-08","s":2020,"v":45},{"d":"04-10","s":2020,"v":85},{"d":"04-14","s":2020,"v":110},{"d":"04-18","s":2020,"v":145},{"d":"04-21","s":2020,"v":130},{"d":"04-24","s":2020,"v":150},{"d":"04-28","s":2020,"v":90},{"d":"05-01","s":2020,"v":115},{"d":"05-08","s":2020,"v":115},{"d":"05-12","s":2020,"v":70},{"d":"05-16","s":2020,"v":30},{"d":"05-20","s":2020,"v":65},{"d":"05-26","s":2020,"v":60},{"d":"05-28","s":2020,"v":65},{"d":"06-02","s":2020,"v":100},{"d":"06-05","s":2020,"v":70},{"d":"06-09","s":2020,"v":70},{"d":"06-11","s":2020,"v":95},{"d":"06-14","s":2020,"v":100},{"d":"06-17","s":2020,"v":60},{"d":"06-24","s":2020,"v":60},{"d":"06-26","s":2020,"v":65},{"d":"07-01","s":2020,"v":90},{"d":"07-04","s":2020,"v":60},{"d":"07-08","s":2020,"v":50},{"d":"07-11","s":2020,"v":30},{"d":"07-15","s":2020,"v":35},{"d":"07-18","s":2020,"v":55},{"d":"07-21","s":2020,"v":55},{"d":"07-24","s":2020,"v":-60},{"d":"07-25","s":2020,"v":-85},{"d":"07-27","s":2020,"v":-60},{"d":"07-29","s":2020,"v":0},{"d":"07-30","s":2020,"v":-70},{"d":"08-03","s":2020,"v":-95},{"d":"08-05","s":2020,"v":-145},{"d":"08-07","s":2020,"v":-85},{"d":"08-11","s":2020,"v":-10},{"d":"08-13","s":2020,"v":45},{"d":"08-18","s":2020,"v":10},{"d":"08-21","s":2020,"v":45},{"d":"08-24","s":2020,"v":40},{"d":"08-26","s":2020,"v":20},{"d":"08-30","s":2020,"v":70},{"d":"09-02","s":2020,"v":95},{"d":"09-04","s":2020,"v":60},{"d":"09-08","s":2020,"v":60},{"d":"09-12","s":2020,"v":30},{"d":"09-15","s":2020,"v":60},{"d":"09-16","s":2020,"v":-70},{"d":"09-19","s":2020,"v":-40},{"d":"09-25","s":2020,"v":-25},{"d":"09-28","s":2020,"v":-15},{"d":"10-01","s":2020,"v":-50},{"d":"10-09","s":2020,"v":-40},{"d":"10-14","s":2020,"v":-20},{"d":"10-17","s":2020,"v":-35},{"d":"10-19","s":2020,"v":-80},{"d":"10-22","s":2020,"v":-30},{"d":"10-24","s":2020,"v":-5},{"d":"10-26","s":2020,"v":-20},{"d":"10-29","s":2020,"v":40},{"d":"11-01","s":2020,"v":50},{"d":"11-03","s":2020,"v":80},{"d":"11-06","s":2020,"v":55},{"d":"11-09","s":2020,"v":70},{"d":"11-15","s":2020,"v":90},{"d":"11-20","s":2020,"v":105},{"d":"11-24","s":2020,"v":90},{"d":"11-27","s":2020,"v":75},{"d":"12-03","s":2020,"v":85},{"d":"12-09","s":2020,"v":95},{"d":"12-11","s":2020,"v":70},{"d":"12-14","s":2020,"v":85},{"d":"12-18","s":2020,"v":45},{"d":"12-20","s":2020,"v":35},{"d":"12-23","s":2020,"v":60},{"d":"12-27","s":2020,"v":45},{"d":"12-30","s":2020,"v":50},{"d":"12-31","s":2020,"v":25},
{"d":"01-04","s":2021,"v":35},{"d":"01-05","s":2021,"v":30},{"d":"01-07","s":2021,"v":-10},{"d":"01-09","s":2021,"v":10},{"d":"01-12","s":2021,"v":25},{"d":"01-14","s":2021,"v":0},{"d":"01-16","s":2021,"v":-20},{"d":"01-18","s":2021,"v":100},{"d":"01-20","s":2021,"v":155},{"d":"01-21","s":2021,"v":120},{"d":"01-23","s":2021,"v":110},{"d":"01-27","s":2021,"v":90},{"d":"01-29","s":2021,"v":115},{"d":"02-01","s":2021,"v":165},{"d":"02-02","s":2021,"v":145},{"d":"02-03","s":2021,"v":230},{"d":"02-05","s":2021,"v":205},{"d":"02-08","s":2021,"v":265},{"d":"02-09","s":2021,"v":215},{"d":"02-10","s":2021,"v":255},{"d":"02-19","s":2021,"v":240},{"d":"02-23","s":2021,"v":205},{"d":"02-25","s":2021,"v":285},{"d":"03-01","s":2021,"v":295},{"d":"03-04","s":2021,"v":255},{"d":"03-08","s":2021,"v":160},{"d":"03-10","s":2021,"v":125},{"d":"03-12","s":2021,"v":165},{"d":"03-15","s":2021,"v":160},{"d":"03-18","s":2021,"v":210},{"d":"03-21","s":2021,"v":225},{"d":"03-26","s":2021,"v":205},{"d":"03-29","s":2021,"v":225},{"d":"03-30","s":2021,"v":305},{"d":"04-02","s":2021,"v":325},{"d":"04-06","s":2021,"v":240},{"d":"04-11","s":2021,"v":250},{"d":"04-12","s":2021,"v":245},{"d":"04-14","s":2021,"v":190},{"d":"04-19","s":2021,"v":195},{"d":"04-21","s":2021,"v":150},{"d":"04-25","s":2021,"v":155},{"d":"04-28","s":2021,"v":110},{"d":"05-02","s":2021,"v":100},{"d":"05-07","s":2021,"v":90},{"d":"05-09","s":2021,"v":60},{"d":"05-11","s":2021,"v":-25},{"d":"05-12","s":2021,"v":-30},{"d":"05-14","s":2021,"v":45},{"d":"05-16","s":2021,"v":30},{"d":"05-18","s":2021,"v":-40},{"d":"05-20","s":2021,"v":145},{"d":"05-22","s":2021,"v":165},{"d":"05-25","s":2021,"v":165},{"d":"05-26","s":2021,"v":195},{"d":"05-28","s":2021,"v":140},{"d":"05-31","s":2021,"v":120},{"d":"06-02","s":2021,"v":165},{"d":"06-04","s":2021,"v":145},{"d":"06-07","s":2021,"v":270},{"d":"06-10","s":2021,"v":340},{"d":"06-11","s":2021,"v":285},{"d":"06-15","s":2021,"v":285},{"d":"06-16","s":2021,"v":385},{"d":"06-18","s":2021,"v":425},{"d":"06-21","s":2021,"v":370},{"d":"06-24","s":2021,"v":310},{"d":"06-25","s":2021,"v":330},{"d":"06-27","s":2021,"v":525},{"d":"06-30","s":2021,"v":460},{"d":"07-02","s":2021,"v":475},{"d":"07-05","s":2021,"v":450},{"d":"07-06","s":2021,"v":355},{"d":"07-08","s":2021,"v":330},{"d":"07-09","s":2021,"v":295},{"d":"07-13","s":2021,"v":290},{"d":"07-14","s":2021,"v":310},{"d":"07-17","s":2021,"v":205},{"d":"07-18","s":2021,"v":150},{"d":"07-20","s":2021,"v":170},{"d":"07-24","s":2021,"v":185},{"d":"07-26","s":2021,"v":210},{"d":"07-28","s":2021,"v":190},{"d":"07-29","s":2021,"v":245},{"d":"08-01","s":2021,"v":245},{"d":"08-02","s":2021,"v":265},{"d":"08-03","s":2021,"v":200},{"d":"08-08","s":2021,"v":190},{"d":"08-10","s":2021,"v":105},{"d":"08-11","s":2021,"v":210},{"d":"08-13","s":2021,"v":170},{"d":"08-16","s":2021,"v":110},{"d":"08-18","s":2021,"v":100},{"d":"08-19","s":2021,"v":175},{"d":"08-22","s":2021,"v":100},{"d":"08-24","s":2021,"v":90},{"d":"08-26","s":2021,"v":-55},{"d":"08-29","s":2021,"v":-60},{"d":"08-31","s":2021,"v":-95},{"d":"09-02","s":2021,"v":-100},{"d":"09-04","s":2021,"v":-75},{"d":"09-06","s":2021,"v":-90},{"d":"09-07","s":2021,"v":-60},{"d":"09-08","s":2021,"v":-130},{"d":"09-10","s":2021,"v":-40},{"d":"09-13","s":2021,"v":-10},{"d":"09-14","s":2021,"v":20},{"d":"09-15","s":2021,"v":210},{"d":"09-16","s":2021,"v":120},{"d":"09-17","s":2021,"v":175},{"d":"09-23","s":2021,"v":160},{"d":"09-24","s":2021,"v":290},{"d":"09-27","s":2021,"v":250},{"d":"09-28","s":2021,"v":270},{"d":"09-29","s":2021,"v":205},{"d":"10-06","s":2021,"v":295},{"d":"10-09","s":2021,"v":240},{"d":"10-11","s":2021,"v":180},{"d":"10-13","s":2021,"v":485},{"d":"10-14","s":2021,"v":420},{"d":"10-18","s":2021,"v":435},{"d":"10-19","s":2021,"v":590},{"d":"10-21","s":2021,"v":720},{"d":"10-24","s":2021,"v":715},{"d":"10-26","s":2021,"v":880},{"d":"10-27","s":2021,"v":750},{"d":"10-28","s":2021,"v":935},{"d":"10-30","s":2021,"v":700},{"d":"10-31","s":2021,"v":590},{"d":"11-01","s":2021,"v":440},{"d":"11-03","s":2021,"v":375},{"d":"11-04","s":2021,"v":385},{"d":"11-07","s":2021,"v":380},{"d":"11-08","s":2021,"v":440},{"d":"11-11","s":2021,"v":375},{"d":"11-15","s":2021,"v":330},{"d":"11-17","s":2021,"v":325},{"d":"11-18","s":2021,"v":290},{"d":"11-21","s":2021,"v":210},{"d":"11-22","s":2021,"v":180},{"d":"11-24","s":2021,"v":90},{"d":"11-26","s":2021,"v":265},{"d":"11-28","s":2021,"v":250},{"d":"11-30","s":2021,"v":295},{"d":"12-01","s":2021,"v":290},{"d":"12-02","s":2021,"v":350},{"d":"12-07","s":2021,"v":255},{"d":"12-09","s":2021,"v":295},{"d":"12-13","s":2021,"v":200},{"d":"12-14","s":2021,"v":195},{"d":"12-15","s":2021,"v":130},{"d":"12-19","s":2021,"v":250},{"d":"12-22","s":2021,"v":240},{"d":"12-23","s":2021,"v":65},{"d":"12-25","s":2021,"v":90},{"d":"12-27","s":2021,"v":115},{"d":"12-28","s":2021,"v":95},{"d":"12-29","s":2021,"v":165},{"d":"12-30","s":2021,"v":95},
{"d":"01-04","s":2022,"v":75},{"d":"01-05","s":2022,"v":100},{"d":"01-06","s":2022,"v":180},{"d":"01-07","s":2022,"v":65},{"d":"01-09","s":2022,"v":110},{"d":"01-10","s":2022,"v":130},{"d":"01-12","s":2022,"v":130},{"d":"01-13","s":2022,"v":155},{"d":"01-14","s":2022,"v":135},{"d":"01-16","s":2022,"v":155},{"d":"01-18","s":2022,"v":105},{"d":"01-21","s":2022,"v":105},{"d":"01-23","s":2022,"v":105},{"d":"01-25","s":2022,"v":110},{"d":"01-27","s":2022,"v":135},{"d":"02-07","s":2022,"v":70},{"d":"02-09","s":2022,"v":130},{"d":"02-10","s":2022,"v":110},{"d":"02-11","s":2022,"v":215}]},
"concat":[
{"width":1102,"height":619,"view":{"stroke":"#d9d9d9","strokeWidth":2},"title":{"text":"1月基差","offset":-68},
"encoding":{"x":{"field":"d","type":"temporal","title":null,"scale":{"type":"utc","domain":["1900-01-01","1901-01-01"],"range":[92,1070],"nice":false},"axis":{"values":["1900-01-01","1900-02-01","1900-03-01","1900-04-01","1900-05-01","1900-06-01","1900-07-01","1900-08-01","1900-09-01","1900-10-01","1900-11-01","1900-12-01","1901-01-01"],"format":"%m-%d","labelBaseline":"middle","labelAngle":0,"offset":-98}},"y":{"field":"v","type":"quantitative","title":null,"scale":{"domain":[-400,800],"range":[487,111.8],"nice":false,"zero":false},"axis":{"values":[-400,-200,0,200,400,600,800],"labelExpr":"''+datum.value","offset":-66}}},
"layer":[
{"data":{"values":[{"d":"1900-01-01","e":"1901-01-01","v":-400},{"d":"1900-01-01","e":"1901-01-01","v":-200},{"d":"1900-01-01","e":"1901-01-01","v":0},{"d":"1900-01-01","e":"1901-01-01","v":200},{"d":"1900-01-01","e":"1901-01-01","v":400},{"d":"1900-01-01","e":"1901-01-01","v":600},{"d":"1900-01-01","e":"1901-01-01","v":800}],"format":{"parse":{"d":"date","e":"date"}}},"mark":{"type":"rule","stroke":"#d9d9d9","strokeWidth":2},"encoding":{"x2":{"field":"e"}}},
{"data":{"name":"ticks","format":{"parse":{"d":"date"}}},"mark":{"type":"rule","stroke":"#d9d9d9","strokeWidth":2},"encoding":{"y2":{"datum":-22}}},
{"data":{"name":"p1","format":{"parse":{"d":"utc:'%m-%d'"}}},"mark":{"type":"line","strokeWidth":6,"strokeJoin":"round","strokeCap":"round"},"encoding":{"color":{"field":"s","type":"nominal","scale":{"domain":[2019,2020,2021,2022],"range":["#4472C4","#ED7D31","#000000","#C00000"]},"legend":{"legendX":276,"legendY":544,"symbolSize":3844,"columnPadding":13}}}},
{"data":{"values":[{"d":"12-13","v":-480,"t":"一德期货"}],"format":{"parse":{"d":"utc:'%m-%d'"}}},"mark":{"type":"text","angle":31,"font":"Noto Sans CJK SC","fontWeight":"normal","fontSize":142,"fill":"#fbe3d2","fillOpacity":0.75,"stroke":"#f6c6a5","strokeWidth":3,"strokeOpacity":0.7},"encoding":{"text":{"field":"t"}}}
]},
{"width":1098,"height":619,"view":{"stroke":"#d9d9d9","strokeWidth":2},"title":{"text":"5月基差","offset":-68,"dx":-18},
"encoding":{"x":{"field":"d","type":"temporal","title":null,"scale":{"type":"utc","domain":["1900-01-01","1901-01-01"],"range":[92,1072],"nice":false},"axis":{"values":["1900-01-01","1900-02-01","1900-03-01","1900-04-01","1900-05-01","1900-06-01","1900-07-01","1900-08-01","1900-09-01","1900-10-01","1900-11-01","1900-12-01","1901-01-01"],"format":"%m-%d","labelBaseline":"middle","labelAngle":0,"offset":-92.5}},"y":{"field":"v","type":"quantitative","title":null,"scale":{"domain":[-400,1000],"range":[494,105.7],"nice":false,"zero":false},"axis":{"values":[-400,-200,0,200,400,600,800,1000],"labelExpr":"''+datum.value","offset":-68}}},
"layer":[
{"data":{"values":[{"d":"1900-01-01","e":"1901-01-01","v":-400},{"d":"1900-01-01","e":"1901-01-01","v":-200},{"d":"1900-01-01","e":"1901-01-01","v":200},{"d":"1900-01-01","e":"1901-01-01","v":400},{"d":"1900-01-01","e":"1901-01-01","v":600},{"d":"1900-01-01","e":"1901-01-01","v":800},{"d":"1900-01-01","e":"1901-01-01","v":1000}],"format":{"parse":{"d":"date","e":"date"}}},"mark":{"type":"rule","stroke":"#d9d9d9","strokeWidth":2},"encoding":{"x2":{"field":"e"}}},
{"data":{"values":[{"d":"1900-01-01","e":"1901-01-01","v":0}],"format":{"parse":{"d":"date","e":"date"}}},"mark":{"type":"rule","stroke":"#000000","strokeWidth":2},"encoding":{"x2":{"field":"e"}}},
{"data":{"name":"ticks","format":{"parse":{"d":"date"}}},"mark":{"type":"rule","stroke":"#000000","strokeWidth":2},"encoding":{"y2":{"datum":-25}}},
{"data":{"name":"p2","format":{"parse":{"d":"utc:'%m-%d'"}}},"mark":{"type":"line","strokeWidth":6,"strokeJoin":"round","strokeCap":"round"},"encoding":{"color":{"field":"s","type":"nominal","scale":{"domain":[2019,2020,2021,2022],"range":["#4472C4","#ED7D31","#000000","#FF0000"]},"legend":{"legendX":293,"legendY":550,"symbolSize":3364,"columnPadding":11}}}}
]},
{"width":1102,"height":554,"view":{"stroke":"#d9d9d9","strokeWidth":2},"title":{"text":"9月基差","offset":-63},
"encoding":{"x":{"field":"d","type":"temporal","title":null,"scale":{"type":"utc","domain":["1900-01-01","1901-01-01"],"range":[96,1046],"nice":false},"axis":{"values":["1900-01-01","1900-02-01","1900-03-01","1900-04-01","1900-05-01","1900-06-01","1900-07-01","1900-08-01","1900-09-01","1900-10-01","1900-11-01","1900-12-01","1901-01-01"],"format":"%m-%d","labelBaseline":"middle","labelAlign":"right","labelAngle":315,"labelOffset":1,"offset":-134}},"y":{"field":"v","type":"quantitative","title":null,"scale":{"domain":[-200,1000],"range":[392,82.8],"nice":false,"zero":false},"axis":{"values":[-200,0,200,400,600,800,1000],"labelExpr":"''+datum.value","offset":-70}}},
"layer":[
{"data":{"values":[{"d":"1900-01-01","e":"1901-01-01","v":-200},{"d":"1900-01-01","e":"1901-01-01","v":0},{"d":"1900-01-01","e":"1901-01-01","v":200},{"d":"1900-01-01","e":"1901-01-01","v":400},{"d":"1900-01-01","e":"1901-01-01","v":600},{"d":"1900-01-01","e":"1901-01-01","v":800},{"d":"1900-01-01","e":"1901-01-01","v":1000}],"format":{"parse":{"d":"date","e":"date"}}},"mark":{"type":"rule","stroke":"#d9d9d9","strokeWidth":2},"encoding":{"x2":{"field":"e"}}},
{"data":{"name":"ticks","format":{"parse":{"d":"date"}}},"mark":{"type":"rule","stroke":"#d9d9d9","strokeWidth":2},"encoding":{"y2":{"datum":-27}}},
{"data":{"name":"p3","format":{"parse":{"d":"utc:'%m-%d'"}}},"mark":{"type":"line","strokeWidth":6,"strokeJoin":"round","strokeCap":"round"},"encoding":{"color":{"field":"s","type":"nominal","scale":{"domain":[2019,2020,2021,2022],"range":["#4472C4","#ED7D31","#000000","#FF0000"]},"legend":{"legendX":274,"legendY":483,"symbolSize":3844,"columnPadding":14}}}}
]},
{"width":1098,"height":554,"view":{"stroke":null},
"encoding":{"x":{"field":"x","type":"quantitative","title":null,"scale":{"domain":[0,1098],"range":[0,1098],"nice":false,"zero":false},"axis":null},"y":{"field":"y","type":"quantitative","title":null,"scale":{"domain":[0,554],"range":[0,554],"nice":false,"zero":false},"axis":null}},
"layer":[
{"data":{"values":[{"x":-1115,"e":1098,"y":-629}]},"mark":{"type":"rule","stroke":"#d6d6d6","strokeWidth":1.5,"strokeDash":[1.5,14.5]},"encoding":{"x2":{"field":"e"}}},
{"data":{"values":[{"x":-1113,"y":-631,"e":554}]},"mark":{"type":"rule","stroke":"#d6d6d6","strokeWidth":1.5,"strokeDash":[1.5,14.5]},"encoding":{"y2":{"field":"e"}}},
{"data":{"values":[{"x":0,"e":1098,"y":4},{"x":0,"e":1098,"y":20},{"x":0,"e":1098,"y":36},{"x":0,"e":1098,"y":52},{"x":0,"e":1098,"y":68},{"x":0,"e":1098,"y":84},{"x":0,"e":1098,"y":100},{"x":0,"e":1098,"y":116},{"x":0,"e":1098,"y":132},{"x":0,"e":1098,"y":148},{"x":0,"e":1098,"y":164},{"x":0,"e":1098,"y":180},{"x":0,"e":1098,"y":196},{"x":0,"e":1098,"y":212},{"x":0,"e":1098,"y":228},{"x":0,"e":1098,"y":244},{"x":0,"e":1098,"y":260},{"x":0,"e":1098,"y":276},{"x":0,"e":1098,"y":292},{"x":0,"e":1098,"y":308},{"x":0,"e":1098,"y":324},{"x":0,"e":1098,"y":340},{"x":0,"e":1098,"y":356},{"x":0,"e":1098,"y":372},{"x":0,"e":1098,"y":388},{"x":0,"e":1098,"y":404},{"x":0,"e":1098,"y":420},{"x":0,"e":1098,"y":436},{"x":0,"e":1098,"y":452},{"x":0,"e":1098,"y":468},{"x":0,"e":1098,"y":484},{"x":0,"e":1098,"y":500},{"x":0,"e":1098,"y":516},{"x":0,"e":1098,"y":532},{"x":0,"e":1098,"y":548}]},"mark":{"type":"rule","stroke":"#d6d6d6","strokeWidth":1.5,"strokeDash":[1.5,14.5]},"encoding":{"x2":{"field":"e"}}},
{"data":{"values":[{"x":0,"e":1098,"y":12},{"x":0,"e":1098,"y":28},{"x":0,"e":1098,"y":44},{"x":0,"e":1098,"y":60},{"x":0,"e":1098,"y":76},{"x":0,"e":1098,"y":92},{"x":0,"e":1098,"y":108},{"x":0,"e":1098,"y":124},{"x":0,"e":1098,"y":140},{"x":0,"e":1098,"y":156},{"x":0,"e":1098,"y":172},{"x":0,"e":1098,"y":188},{"x":0,"e":1098,"y":204},{"x":0,"e":1098,"y":220},{"x":0,"e":1098,"y":236},{"x":0,"e":1098,"y":252},{"x":0,"e":1098,"y":268},{"x":0,"e":1098,"y":284},{"x":0,"e":1098,"y":300},{"x":0,"e":1098,"y":316},{"x":0,"e":1098,"y":332},{"x":0,"e":1098,"y":348},{"x":0,"e":1098,"y":364},{"x":0,"e":1098,"y":380},{"x":0,"e":1098,"y":396},{"x":0,"e":1098,"y":412},{"x":0,"e":1098,"y":428},{"x":0,"e":1098,"y":444},{"x":0,"e":1098,"y":460},{"x":0,"e":1098,"y":476},{"x":0,"e":1098,"y":492},{"x":0,"e":1098,"y":508},{"x":0,"e":1098,"y":524},{"x":0,"e":1098,"y":540}]},"mark":{"type":"rule","stroke":"#d6d6d6","strokeWidth":1.5,"strokeDash":[1.5,14.5],"strokeDashOffset":8},"encoding":{"x2":{"field":"e"}}},
{"data":{"values":[{"x":921,"y":453}]},"mark":{"type":"point","filled":true,"opacity":1,"fill":"#e60012","strokeWidth":0,"size":4356,"shape":"M0.3 -1.18C0.1 -0.95 -0.5 -1 -0.85 -0.55C-1.1 -0.2 -1.05 0.45 -0.7 0.75C-0.85 0.3 -0.9 -0.2 -0.55 -0.55C-0.3 -0.8 0.1 -0.85 0.3 -1ZM0.28 -0.85C0 -0.6 -0.4 -0.6 -0.6 -0.25C-0.75 0.05 -0.7 0.45 -0.55 0.65C-0.6 0.3 -0.5 -0.1 -0.3 -0.3C-0.1 -0.48 0.15 -0.5 0.28 -0.62ZM0.28 -0.5C0.05 -0.3 -0.25 -0.25 -0.35 0C-0.45 0.2 -0.42 0.45 -0.35 0.65C-0.3 0.35 -0.25 0.15 -0.1 0.02C0.05 -0.1 0.2 -0.12 0.28 -0.25ZM0.28 -0.12C0.1 0.05 -0.1 0.1 -0.15 0.35L-0.12 0.7C-0.05 0.45 0.1 0.4 0.25 0.25ZM-0.78 0.65C-0.5 1.15 0.3 1.15 0.62 0.75C0.3 0.95 -0.1 0.95 -0.4 0.7Z"}},
{"data":{"values":[{"x":921,"y":453}]},"mark":{"type":"point","filled":false,"opacity":1,"stroke":"#e60012","strokeWidth":2,"size":4356,"shape":"M0.38 -0.92C0.85 -0.75 1.03 -0.3 1 0.05C0.98 0.4 0.8 0.7 0.55 0.85"}},
{"data":{"values":[{"x":930,"y":476}]},"mark":{"type":"point","filled":true,"opacity":1,"fill":"#231815","strokeWidth":0,"size":100,"shape":"circle"}},
{"data":{"values":[{"x":966,"y":444,"t":"一德期货"}]},"mark":{"type":"text","align":"left","baseline":"middle","font":"Noto Sans CJK SC","fontWeight":"bold","fontSize":37,"fill":"#231815"},"encoding":{"text":{"field":"t"}}},
{"data":{"values":[{"x":966,"y":475,"t":"FIRST FUTURES"}]},"mark":{"type":"text","align":"left","baseline":"middle","font":"DejaVu Sans","fontWeight":"bold","fontSize":16,"fill":"#231815"},"encoding":{"text":{"field":"t"}}}
]}
]}
